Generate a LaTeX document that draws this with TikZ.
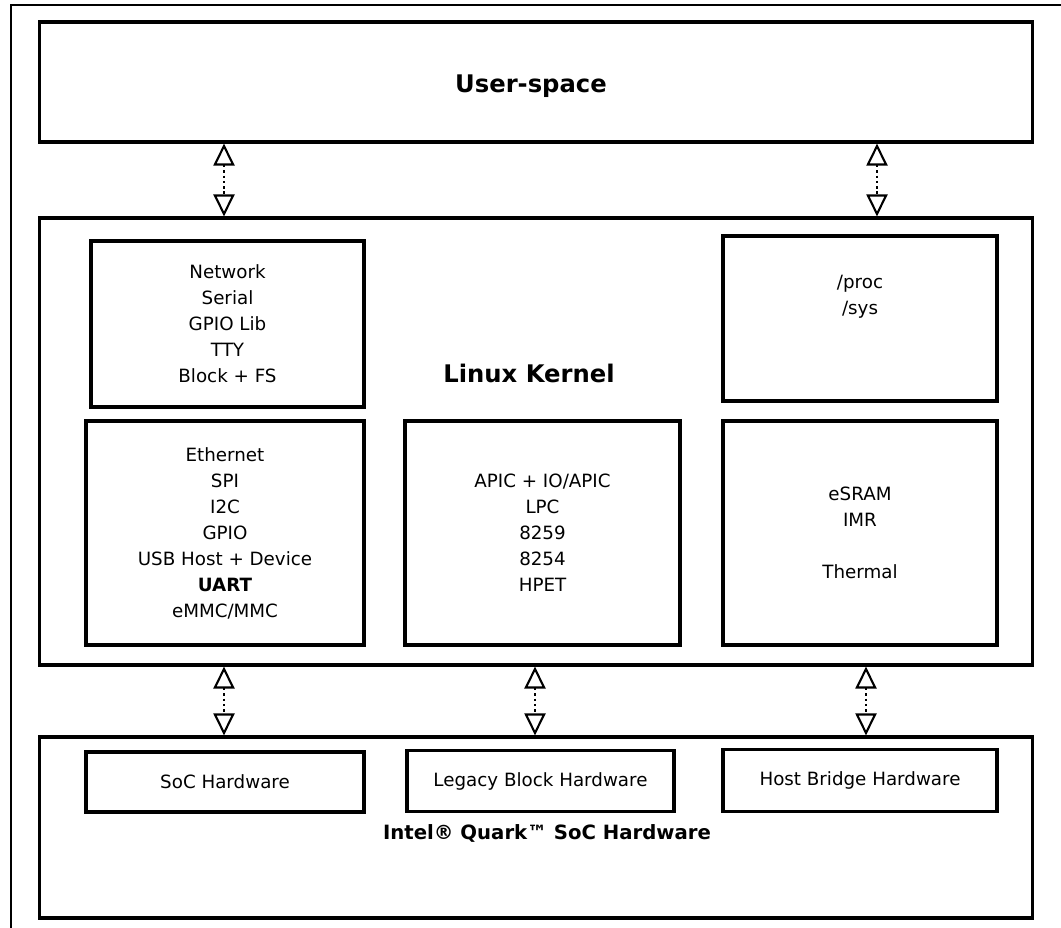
\documentclass[tikz,border=0pt]{standalone}
\usepackage{fontspec}
\setmainfont{DejaVu Sans}
\usetikzlibrary{arrows.meta}

\begin{document}
\begin{tikzpicture}[x=0.02cm, y=-0.02cm,
    box/.style={draw, line width=1.8pt, align=center, inner sep=0pt, font=\fontsize{10.4}{14.8}\selectfont},
    title/.style={font=\fontsize{13.8}{16}\selectfont\bfseries},
    link/.style={line width=1.2pt, dash pattern=on 1.4pt off 1.6pt, {Triangle[open, width=0.42cm, length=0.44cm, line width=1.2pt]}-{Triangle[open, width=0.42cm, length=0.44cm, line width=1.2pt]}}]
  \useasboundingbox (0,0) rectangle (1061,928);
  \draw[line width=1pt] (11,928) -- (11,5) -- (1061,5);

  \node[box, minimum width=19.88cm, minimum height=2.4cm] (user) at (536,82) {};
  \node[title] (usertxt) at (531,86) {User-space};

  \node[box, minimum width=19.88cm, minimum height=8.94cm] (kernel) at (536,441.5) {};
  \node[title] (kerneltxt) at (529,373) {Linux Kernel};
  \node[box, minimum width=5.46cm, minimum height=3.32cm] (subsys) at (227.5,324) {Network\\Serial\\GPIO Lib\\TTY\\Block + FS};
  \node[box, minimum width=5.48cm, minimum height=3.3cm] (procfs) at (860,318.5) {};
  \node[font=\fontsize{10.4}{14.8}\selectfont, align=center] (proctxt) at (860,297) {/proc\\/sys};
  \node[box, minimum width=5.56cm, minimum height=4.48cm] (socdrv) at (225,533) {Ethernet\\SPI\\I2C\\GPIO\\USB Host + Device\\\textbf{UART}\\eMMC/MMC};
  \node[box, minimum width=5.5cm, minimum height=4.48cm] (legacydrv) at (542.5,533) {APIC + IO/APIC\\LPC\\8259\\8254\\HPET};
  \node[box, minimum width=5.48cm, minimum height=4.48cm] (hostdrv) at (860,533) {eSRAM\\IMR\\\\Thermal};

  \node[box, minimum width=19.88cm, minimum height=3.62cm] (hw) at (536,827.5) {};
  \node[font=\fontsize{11.2}{13}\selectfont\bfseries] (hwtxt) at (547,833) {Intel® Quark™ SoC Hardware};
  \node[box, minimum width=5.56cm, minimum height=1.2cm] (sochw) at (225,782) {SoC Hardware};
  \node[box, minimum width=5.34cm, minimum height=1.22cm] (legacyhw) at (540.5,781) {Legacy Block Hardware};
  \node[box, minimum width=5.48cm, minimum height=1.24cm] (hosthw) at (860,780.5) {Host Bridge Hardware};

  \coordinate (a1) at (224,0);
  \coordinate (a2) at (877,0);
  \coordinate (b1) at (224,0);
  \coordinate (b2) at (535,0);
  \coordinate (b3) at (866,0);
  \draw[link] (a1 |- user.south) -- (a1 |- kernel.north);
  \draw[link] (a2 |- user.south) -- (a2 |- kernel.north);
  \draw[link] (b1 |- kernel.south) -- (b1 |- hw.north);
  \draw[link] (b2 |- kernel.south) -- (b2 |- hw.north);
  \draw[link] (b3 |- kernel.south) -- (b3 |- hw.north);
\end{tikzpicture}
\end{document}
